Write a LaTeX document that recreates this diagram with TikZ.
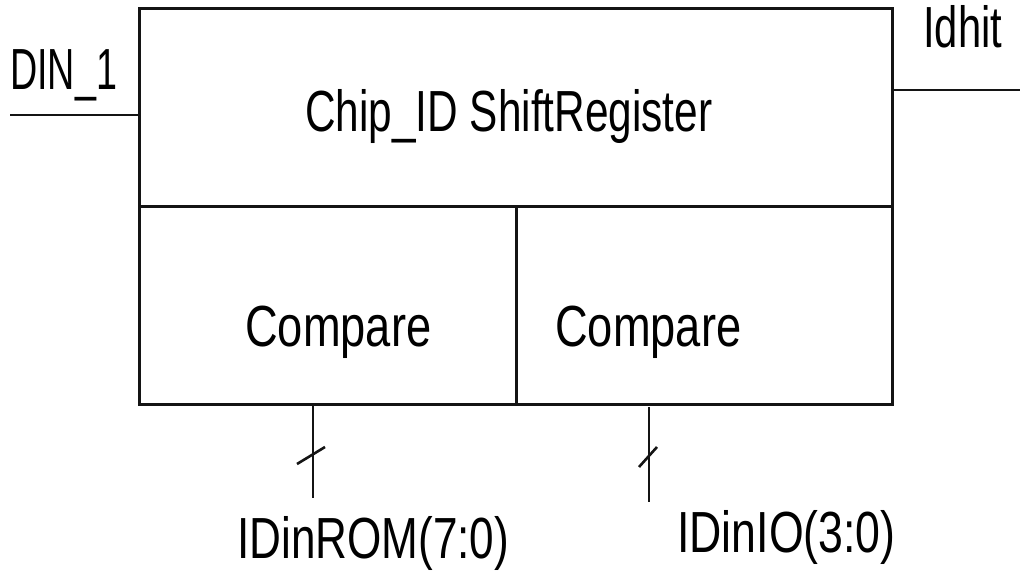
\documentclass[tikz,border=0pt]{standalone}
\usepackage{fontspec}
\setmainfont{Liberation Sans}
\usepackage{graphicx}
\begin{document}
\begin{tikzpicture}[x=1pt,y=-1pt,
  wire/.style={line width=2.6pt, draw=black!92},
  blockbox/.style={draw=black!92, line width=2.6pt, inner sep=0pt, anchor=north west},
  lbl/.style={font=\fontsize{58}{60}\selectfont, inner sep=0pt, anchor=base west}]
\useasboundingbox (0,0) rectangle (1022,572);

% register block and the two comparators below it
\node[blockbox, minimum width=753pt, minimum height=198pt] (sreg) at (138,7) {};
\node[blockbox, minimum width=377pt, minimum height=198pt] (cmpa) at (138,205) {};
\node[blockbox, minimum width=376pt, minimum height=198pt] (cmpb) at (515,205) {};

% block texts
\node[lbl] (tsreg) at (305,132) {\scalebox{0.73}[1]{Chip\_ID ShiftRegister}};
\node[lbl] (tcmpa) at (245,346) {\scalebox{0.78}[1]{Compare}};
\node[lbl] (tcmpb) at (555,346) {\scalebox{0.78}[1]{Compare}};

% signal names
\node[lbl] (tdin) at (10,90) {\scalebox{0.65}[1]{DIN\_1}};
\node[lbl] (thit) at (923,48) {\scalebox{0.72}[1]{Idhit}};
\node[lbl] (trom) at (237,558) {\scalebox{0.76}[1]{IDinROM(7:0)}};
\node[lbl] (tio) at (677,552) {\scalebox{0.77}[1]{IDinIO(3:0)}};

% single wires
\coordinate (dinend) at (10,115);
\coordinate (hitend) at (1020,90);
\draw[wire] (dinend) -- (sreg.west |- dinend);
\draw[wire] (sreg.east |- hitend) -- (hitend);

% buses with width ticks
\coordinate (romtop) at (313,403);
\coordinate (romend) at (313,498);
\coordinate (iotop) at (649,407);
\coordinate (ioend) at (649,502);
\draw[wire] (romtop) -- (romend);
\draw[wire] (iotop) -- (ioend);
\coordinate (roma) at (297,464);
\coordinate (romb) at (325,447);
\coordinate (ioa) at (639,467);
\coordinate (iob) at (657,447);
\draw[wire] (roma) -- (romb);
\draw[wire] (ioa) -- (iob);
\end{tikzpicture}
\end{document}
